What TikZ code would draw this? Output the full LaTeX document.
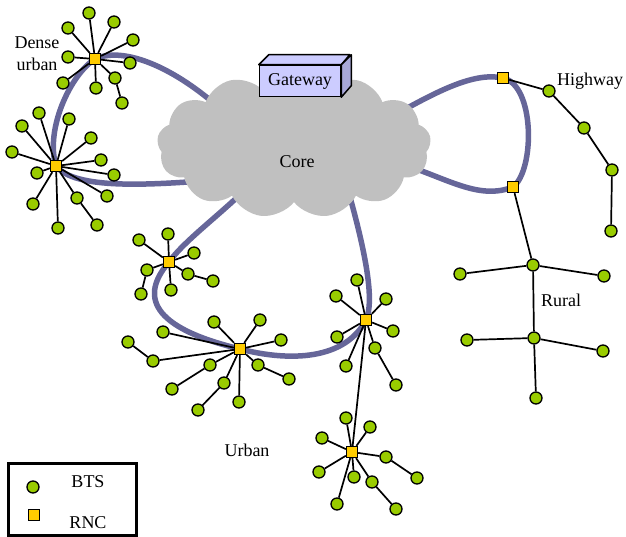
\documentclass[tikz,border=0pt]{standalone}
\usepackage{fontspec}
\setmainfont{Liberation Serif}
\usepackage{tikz}
\usetikzlibrary{shapes.symbols}
\definecolor{btsgreen}{HTML}{99CC00}
\definecolor{rncyellow}{HTML}{FFCC00}
\definecolor{trunkblue}{HTML}{666699}
\definecolor{cloudgray}{HTML}{C0C0C0}
\definecolor{gwfront}{HTML}{CCCCFF}
\definecolor{gwside}{HTML}{A8A8D8}
\pgfdeclarelayer{trunks}
\pgfdeclarelayer{links}
\pgfsetlayers{trunks,links,main}

\begin{document}
\begin{tikzpicture}[x=1pt,y=-1pt,
bts/.style={circle,draw,fill=btsgreen,line width=1.3pt,minimum size=12pt,inner sep=0pt},
rnc/.style={rectangle,draw,fill=rncyellow,line width=1.3pt,minimum size=11pt,inner sep=0pt},
link/.style={line width=1.7pt},
trunk/.style={line width=5.5pt,draw=trunkblue},
every node/.style={font=\fontsize{18}{22}\selectfont}]
\useasboundingbox (0,0) rectangle (626,537);
\node[cloud,cloud puffs=13,cloud puff arc=115,aspect=1.9,fill=cloudgray,minimum width=274pt,minimum height=146pt,inner sep=0pt] (core) at (294,145) {};
\node (corelbl) at (297,162) {Core};
\node[draw,fill=gwfront,line width=1.5pt,minimum width=81pt,minimum height=31pt,inner sep=0pt] (gw) at (300,81) {Gateway};
\draw[line width=1.5pt,fill=gwfront,line join=round] (gw.north west) -- ++(10,-10) -- ++(81,0) -- (gw.north east) -- cycle;
\draw[line width=1.5pt,fill=gwside,line join=round] (gw.north east) -- ++(10,-10) -- ++(0,31) -- (gw.south east) -- cycle;
\node[align=center] (denselbl) at (37,54) {Dense\\urban};
\node (hwylbl) at (590,81) {Highway};
\node (rurallbl) at (561,300) {Rural};
\node (urbanlbl) at (247,450) {Urban};
\node[rnc] (dense1) at (95,59) {};
\node[bts] (d1a) at (89,13) {};
\node[bts] (d1b) at (114,22) {};
\node[bts] (d1c) at (68,28) {};
\node[bts] (d1d) at (133,40) {};
\node[bts] (d1e) at (68,57) {};
\node[bts] (d1f) at (130,63) {};
\node[bts] (d1g) at (115,78) {};
\node[bts] (d1h) at (63,83) {};
\node[bts] (d1i) at (96,88) {};
\node[bts] (d1j) at (122,103) {};
\node[rnc] (dense2) at (56,166) {};
\node[bts] (d2a) at (39,113) {};
\node[bts] (d2b) at (69,119) {};
\node[bts] (d2c) at (22,126) {};
\node[bts] (d2d) at (91,138) {};
\node[bts] (d2e) at (12,152) {};
\node[bts] (d2f) at (101,160) {};
\node[bts] (d2g) at (37,173) {};
\node[bts] (d2h) at (114,175) {};
\node[bts] (d2i) at (107,196) {};
\node[bts] (d2j) at (77,198) {};
\node[bts] (d2k) at (33,204) {};
\node[bts] (d2l) at (58,228) {};
\node[bts] (d2m) at (97,225) {};
\node[rnc] (urb1) at (169,262) {};
\node[bts] (u1a) at (139,240) {};
\node[bts] (u1b) at (168,234) {};
\node[bts] (u1c) at (194,253) {};
\node[bts] (u1d) at (147,270) {};
\node[bts] (u1e) at (188,274) {};
\node[bts] (u1f) at (213,281) {};
\node[bts] (u1g) at (141,294) {};
\node[bts] (u1h) at (171,290) {};
\node[rnc] (urb2) at (240,349) {};
\node[bts] (u2a) at (214,322) {};
\node[bts] (u2b) at (260,320) {};
\node[bts] (u2c) at (163,332) {};
\node[bts] (u2d) at (281,340) {};
\node[bts] (u2e) at (153,361) {};
\node[bts] (u2f) at (128,342) {};
\node[bts] (u2g) at (210,365) {};
\node[bts] (u2h) at (172,389) {};
\node[bts] (u2i) at (258,365) {};
\node[bts] (u2j) at (289,379) {};
\node[bts] (u2k) at (224,383) {};
\node[bts] (u2l) at (198,410) {};
\node[bts] (u2m) at (239,402) {};
\node[rnc] (urb3) at (366,320) {};
\node[bts] (u3a) at (357,280) {};
\node[bts] (u3b) at (336,296) {};
\node[bts] (u3c) at (386,299) {};
\node[bts] (u3d) at (393,331) {};
\node[bts] (u3e) at (337,337) {};
\node[bts] (u3f) at (375,348) {};
\node[bts] (u3g) at (396,385) {};
\node[bts] (u3h) at (346,366) {};
\node[rnc] (urb4) at (352,452) {};
\node[bts] (u4a) at (346,418) {};
\node[bts] (u4b) at (370,427) {};
\node[bts] (u4c) at (322,438) {};
\node[bts] (u4d) at (386,457) {};
\node[bts] (u4e) at (417,478) {};
\node[bts] (u4f) at (319,472) {};
\node[bts] (u4g) at (354,477) {};
\node[bts] (u4h) at (372,482) {};
\node[bts] (u4i) at (396,509) {};
\node[bts] (u4j) at (337,504) {};
\node[rnc] (hwy1) at (503,78) {};
\node[bts] (h1) at (549,91) {};
\node[bts] (h2) at (584,128) {};
\node[bts] (h3) at (612,170) {};
\node[bts] (h4) at (611,231) {};
\node[rnc] (hwy2) at (513,187) {};
\node[bts] (r1) at (533,265) {};
\node[bts] (r2) at (460,274) {};
\node[bts] (r3) at (604,276) {};
\node[bts] (r4) at (534,338) {};
\node[bts] (r5) at (467,340) {};
\node[bts] (r6) at (603,351) {};
\node[bts] (r7) at (536,398) {};
\coordinate (cA) at (228,116);
\coordinate (cB) at (215,180);
\coordinate (cC) at (400,112);
\coordinate (cD) at (405,165);
\coordinate (cE) at (250,185);
\coordinate (cF) at (348,190);
\begin{pgfonlayer}{trunks}
\draw[trunk] (cA) .. controls (180,70) and (125,45) .. (dense1.center) .. controls (70,75) and (45,130) .. (dense2.center) .. controls (75,190) and (150,185) .. (cB);
\draw[trunk] (cC) .. controls (440,90) and (475,72) .. (hwy1.center) .. controls (535,85) and (535,170) .. (hwy2.center) .. controls (480,200) and (450,180) .. (cD);
\draw[trunk] (cE) .. controls (220,215) and (185,240) .. (urb1.center) .. controls (145,290) and (140,325) .. (urb2.center) .. controls (290,362) and (345,360) .. (urb3.center) .. controls (375,300) and (365,250) .. (cF);
\end{pgfonlayer}
\begin{pgfonlayer}{links}
\draw[link] (dense1) -- (d1a) (dense1) -- (d1b) (dense1) -- (d1c) (dense1) -- (d1d) (dense1) -- (d1e) (dense1) -- (d1f) (dense1) -- (d1g) (dense1) -- (d1h) (dense1) -- (d1i) (d1g) -- (d1j);
\draw[link] (dense2) -- (d2a) (dense2) -- (d2b) (dense2) -- (d2c) (dense2) -- (d2d) (dense2) -- (d2e) (dense2) -- (d2f) (dense2) -- (d2g) (dense2) -- (d2h) (dense2) -- (d2i) (dense2) -- (d2j) (dense2) -- (d2k) (dense2) -- (d2l) (d2j) -- (d2m);
\draw[link] (urb1) -- (u1a) (urb1) -- (u1b) (urb1) -- (u1c) (urb1) -- (u1d) (urb1) -- (u1e) (urb1) -- (u1h) (u1e) -- (u1f) (u1d) -- (u1g);
\draw[link] (urb2) -- (u2a) (urb2) -- (u2b) (urb2) -- (u2c) (urb2) -- (u2d) (urb2) -- (u2e) (urb2) -- (u2g) (urb2) -- (u2i) (urb2) -- (u2k) (urb2) -- (u2m) (u2e) -- (u2f) (u2g) -- (u2h) (u2i) -- (u2j) (u2k) -- (u2l);
\draw[link] (urb3) -- (u3a) (urb3) -- (u3b) (urb3) -- (u3c) (urb3) -- (u3d) (urb3) -- (u3e) (urb3) -- (u3f) (urb3) -- (u3h) (u3f) -- (u3g) (urb3) -- (urb4);
\draw[link] (urb4) -- (u4a) (urb4) -- (u4b) (urb4) -- (u4c) (urb4) -- (u4d) (urb4) -- (u4f) (urb4) -- (u4g) (urb4) -- (u4h) (urb4) -- (u4j) (u4d) -- (u4e) (u4h) -- (u4i);
\draw[link] (hwy1) -- (h1) -- (h2) -- (h3) -- (h4);
\draw[link] (hwy2) -- (r1) (r1) -- (r2) (r1) -- (r3) (r1) -- (r4) (r4) -- (r5) (r4) -- (r6) (r4) -- (r7);
\end{pgfonlayer}
\node[draw,line width=3pt,minimum width=128pt,minimum height=72pt,inner sep=0pt] (legend) at (72,499) {};
\node[bts] (keybts) at (33,487) {};
\node (keybtslbl) at (88,482) {BTS};
\node[rnc] (keyrnc) at (34,515) {};
\node (keyrnclbl) at (88,523) {RNC};
\end{tikzpicture}
\end{document}
